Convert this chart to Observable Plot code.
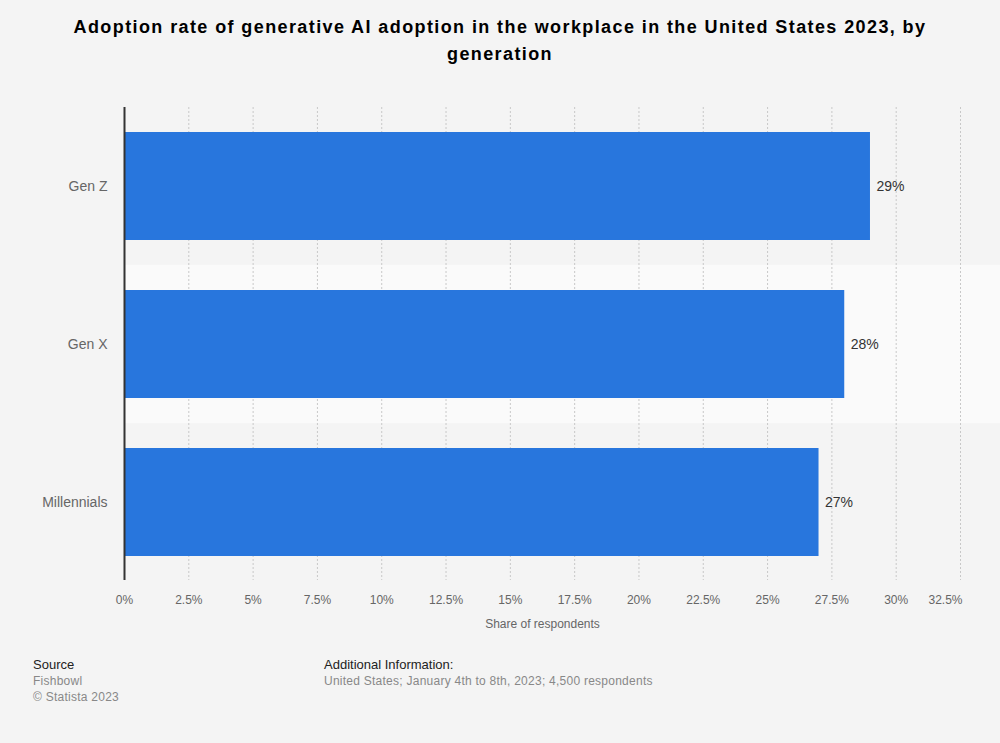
<!DOCTYPE html>
<html>
<head>
<meta charset="utf-8">
<script src="https://cdn.jsdelivr.net/npm/d3@7"></script>
<script src="https://cdn.jsdelivr.net/npm/@observablehq/plot@0.6"></script>
<style>
  html, body { margin: 0; padding: 0; background: #f4f4f4; font-family: "Liberation Sans", Arial, sans-serif; }
  #wrap { position: relative; width: 1000px; height: 743px; overflow: hidden; background: #f4f4f4; }
  #title { position: absolute; top: 14px; left: 0; width: 1000px; text-align: center; font-weight: bold; font-size: 18px; line-height: 27px; color: #000; letter-spacing: 1.4px; }
  #chart { position: absolute; top: 80px; left: 0; }
  .foot { position: absolute; font-size: 12px; line-height: 16px; color: #888; letter-spacing: 0.25px; }
  .foot b { font-weight: normal; color: #222; font-size: 13px; letter-spacing: 0; }
</style>
</head>
<body>
<div id="wrap">
  <div id="title">Adoption rate of generative AI adoption in the workplace in the United States 2023, by<br>generation</div>
  <div id="chart"></div>
  <div class="foot" style="left:33px; top:657px;"><b>Source</b><br>Fishbowl<br>© Statista 2023</div>
  <div class="foot" style="left:324px; top:657px;"><b>Additional Information:</b><br>United States; January 4th to 8th, 2023; 4,500 respondents</div>
</div>
<script>
const generations = ["Gen Z", "Gen X", "Millennials"];
const shares = [29, 28, 27];
const tickValues = [0, 2.5, 5, 7.5, 10, 12.5, 15, 17.5, 20, 22.5, 25, 27.5, 30, 32.5];
const axisLabel = "Share of respondents";

const data = generations.map((g, i) => ({gen: g, value: shares[i], idx: i}));
const fmt = v => (Number.isInteger(v) ? v : v.toFixed(1)) + "%";
const lastTick = tickValues[tickValues.length - 1];

const chart = Plot.plot({
  width: 1000,
  height: 570,
  marginTop: 27,
  marginBottom: 70,
  marginLeft: 124,
  marginRight: 40,
  style: { background: "transparent", fontFamily: "Liberation Sans, Arial, sans-serif" },
  x: { domain: [0, lastTick], label: null },
  y: { domain: generations, paddingInner: 0.3186, paddingOuter: 0.151, label: null },
  marks: [
    Plot.barX(data.filter(d => d.idx % 2 === 1), {
      y: "gen", x1: 0, x2: lastTick, fill: "#fafafa",
      insetTop: -25.2, insetBottom: -25.2, insetRight: -40
    }),
    Plot.ruleX(tickValues.filter(t => t > 0), { stroke: "#c8c8c8", strokeDasharray: "2,2", strokeWidth: 1 }),
    Plot.barX(data, { y: "gen", x: "value", fill: "#2876dd" }),
    Plot.text(data, { y: "gen", x: "value", text: d => d.value + "%", textAnchor: "start", dx: 6, fontSize: 14, fill: "#333" }),
    Plot.ruleX([0], { stroke: "#333", strokeWidth: 2 }),
    Plot.axisX({ ticks: tickValues.slice(0, -1), tickFormat: fmt, tickSize: 0, tickPadding: 15, fontSize: 12, color: "#666", label: null }),
    Plot.axisX({ ticks: [lastTick], tickFormat: fmt, tickSize: 0, tickPadding: 15, fontSize: 12, color: "#666", textAnchor: "end", dx: 2, label: null }),
    Plot.axisY({ tickSize: 0, tickPadding: 17, fontSize: 14, color: "#666", label: null }),
    Plot.text([axisLabel], { frameAnchor: "bottom", text: d => d, dy: 47, fontSize: 12, fill: "#666" })
  ]
});
document.getElementById("chart").appendChild(chart);
</script>
</body>
</html>
